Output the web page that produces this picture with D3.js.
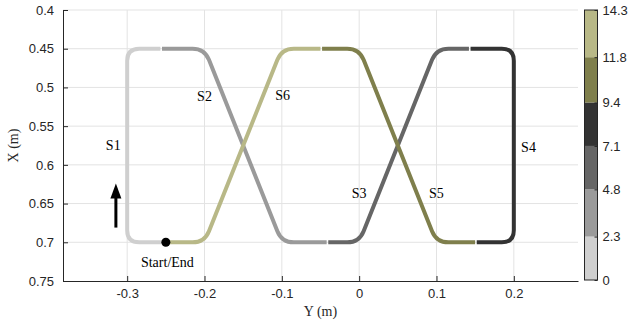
<!DOCTYPE html>
<html>
<head>
<meta charset="utf-8">
<script src="https://cdn.jsdelivr.net/npm/d3@7"></script>
<style>
  body { margin: 0; background: #fff; }
  svg { display: block; }
</style>
</head>
<body>
<svg id="chart" width="629" height="326"></svg>
<script>
// ---------- data ----------
const xTicks = [-0.3, -0.2, -0.1, 0, 0.1, 0.2];
const xTickLabels = ["-0.3", "-0.2", "-0.1", "0", "0.1", "0.2"];
const yTicks = [0.4, 0.45, 0.5, 0.55, 0.6, 0.65, 0.7, 0.75];
const yTickLabels = ["0.4", "0.45", "0.5", "0.55", "0.6", "0.65", "0.7", "0.75"];

const segmentNames = ["S1", "S2", "S3", "S4", "S5", "S6"];
// way-points (Y, X) of each segment of the trajectory
const segS1 = [[-0.25, 0.70], [-0.30, 0.70], [-0.30, 0.45], [-0.256, 0.45]];
const segS2 = [[-0.256, 0.45], [-0.20, 0.45], [-0.10, 0.70], [-0.041, 0.70]];
const segS3 = [[-0.041, 0.70], [0.00, 0.70], [0.10, 0.45], [0.143, 0.45]];
const segS4 = [[0.143, 0.45], [0.20, 0.45], [0.20, 0.70], [0.151, 0.70]];
const segS5 = [[0.151, 0.70], [0.10, 0.70], [0.00, 0.45], [-0.049, 0.45]];
const segS6 = [[-0.049, 0.45], [-0.10, 0.45], [-0.20, 0.70], [-0.25, 0.70]];
const segments = [segS1, segS2, segS3, segS4, segS5, segS6];
const segmentColors = ["#cfcfcf", "#9a9a9a", "#666666", "#333333", "#7f7f4c", "#b8b887"];

// label positions (Y, X)
const labelPos = [[-0.318, 0.574], [-0.2, 0.511], [0.0, 0.636], [0.219, 0.577], [0.1, 0.637], [-0.099, 0.510]];

const startEnd = [-0.25, 0.70];
const startLabelPos = [-0.248, 0.726];
const arrowData = [-0.3146, 0.681, 0.624]; // Y, X from, X to

// colour bar (time)
const cbBounds = [0, 2.3, 4.8, 7.1, 9.4, 11.8, 14.3];
const cbTickLabels = ["0", "2.3", "4.8", "7.1", "9.4", "11.8", "14.3"];

// ---------- drawing ----------
const svg = d3.select("#chart");
const axisColor = "#262626";
const pL = 63, pR = 578, pT = 10, pB = 281;

const x = d3.scaleLinear().domain([-0.383, 0.283]).range([pL, pR]);
const y = d3.scaleLinear().domain([0.4, 0.75]).range([pT, pB]);

// grid
const grid = svg.append("g");
grid.selectAll("line.v").data(xTicks).join("line")
  .attr("x1", d => x(d)).attr("x2", d => x(d))
  .attr("y1", pT).attr("y2", pB)
  .attr("stroke", "#e3e3e3").attr("stroke-width", 1);
grid.selectAll("line.h").data(yTicks.filter(d => d < 0.75)).join("line")
  .attr("x1", pL).attr("x2", pR)
  .attr("y1", d => y(d)).attr("y2", d => y(d))
  .attr("stroke", "#e3e3e3").attr("stroke-width", 1);

// axes
const xAxis = d3.axisBottom(x).tickValues(xTicks)
  .tickFormat((d, i) => xTickLabels[i]).tickSizeInner(-5).tickSizeOuter(0).tickPadding(8);
const yAxis = d3.axisLeft(y).tickValues(yTicks)
  .tickFormat((d, i) => yTickLabels[i]).tickSizeInner(-5).tickSizeOuter(0).tickPadding(9);

const gx = svg.append("g").attr("transform", `translate(0,${pB})`).call(xAxis);
const gy = svg.append("g").attr("transform", `translate(${pL},0)`).call(yAxis);
[gx, gy].forEach(g => {
  g.select(".domain").attr("stroke", axisColor);
  g.selectAll(".tick line").attr("stroke", axisColor);
  g.selectAll(".tick text").attr("fill", axisColor)
    .style("font-family", "'Liberation Sans', Arial, sans-serif").style("font-size", "13px");
});

// axis titles
svg.append("text").attr("x", (pL + pR) / 2).attr("y", 316)
  .attr("text-anchor", "middle").attr("fill", axisColor)
  .style("font-family", "'Liberation Serif', 'Times New Roman', serif").style("font-size", "14px")
  .text("Y (m)");
svg.append("text").attr("transform", `translate(18,${(pT + pB) / 2}) rotate(-90)`)
  .attr("text-anchor", "middle").attr("fill", axisColor)
  .style("font-family", "'Liberation Serif', 'Times New Roman', serif").style("font-size", "14px")
  .text("X (m)");

// rounded path builder (pixel space)
function roundedPath(pts, r, trim) {
  const p = pts.map(d => [x(d[0]), y(d[1])]);
  const unit = (a, b) => { const dx = b[0] - a[0], dy = b[1] - a[1]; const L = Math.hypot(dx, dy); return [dx / L, dy / L]; };
  const u0 = unit(p[0], p[1]);
  p[0] = [p[0][0] + u0[0] * trim, p[0][1] + u0[1] * trim];
  const n = p.length;
  const u1 = unit(p[n - 2], p[n - 1]);
  p[n - 1] = [p[n - 1][0] - u1[0] * trim, p[n - 1][1] - u1[1] * trim];
  const path = d3.path();
  path.moveTo(p[0][0], p[0][1]);
  for (let i = 1; i < n - 1; i++) {
    const a = unit(p[i - 1], p[i]), b = unit(p[i], p[i + 1]);
    path.lineTo(p[i][0] - a[0] * r, p[i][1] - a[1] * r);
    path.quadraticCurveTo(p[i][0], p[i][1], p[i][0] + b[0] * r, p[i][1] + b[1] * r);
  }
  path.lineTo(p[n - 1][0], p[n - 1][1]);
  return path.toString();
}

svg.append("g").selectAll("path").data(segments).join("path")
  .attr("d", d => roundedPath(d, 12, 0.8))
  .attr("fill", "none")
  .attr("stroke", (d, i) => segmentColors[i])
  .attr("stroke-width", 4)
  .attr("stroke-linecap", "butt")
  .attr("stroke-linejoin", "round");

// segment labels
svg.append("g").selectAll("text").data(segmentNames).join("text")
  .attr("x", (d, i) => x(labelPos[i][0]))
  .attr("y", (d, i) => y(labelPos[i][1]))
  .attr("dy", "0.35em")
  .attr("text-anchor", "middle")
  .attr("fill", "#000")
  .style("font-family", "'Liberation Serif', 'Times New Roman', serif").style("font-size", "14px")
  .text(d => d);

// start / end marker
svg.append("circle").attr("cx", x(startEnd[0])).attr("cy", y(startEnd[1])).attr("r", 4.5).attr("fill", "#000");
svg.append("text").attr("x", x(startLabelPos[0])).attr("y", y(startLabelPos[1]))
  .attr("dy", "0.35em").attr("text-anchor", "middle").attr("fill", "#000")
  .style("font-family", "'Liberation Serif', 'Times New Roman', serif").style("font-size", "14px")
  .text("Start/End");

// arrow
const ax = x(arrowData[0]), ay0 = y(arrowData[1]), ay1 = y(arrowData[2]);
svg.append("line").attr("x1", ax).attr("x2", ax).attr("y1", ay0).attr("y2", ay1 + 10)
  .attr("stroke", "#000").attr("stroke-width", 3);
svg.append("path")
  .attr("d", `M${ax},${ay1} L${ax - 5.5},${ay1 + 15} L${ax + 5.5},${ay1 + 15} Z`)
  .attr("fill", "#000");

// colour bar
const cbX = 584.5, cbW = 13;
const c = d3.scaleLinear().domain([0, 14.3]).range([280, 10]);
const cb = svg.append("g");
cb.selectAll("rect").data(d3.range(cbBounds.length - 1)).join("rect")
  .attr("x", cbX).attr("width", cbW)
  .attr("y", i => c(cbBounds[i + 1])).attr("height", i => c(cbBounds[i]) - c(cbBounds[i + 1]))
  .attr("fill", i => segmentColors[i]);
const cbAxis = d3.axisRight(c).tickValues(cbBounds)
  .tickFormat((d, i) => cbTickLabels[i]).tickSizeInner(-3).tickSizeOuter(0).tickPadding(5);
const gcb = svg.append("g").attr("transform", `translate(${cbX + cbW},0)`).call(cbAxis);
gcb.select(".domain").remove();
gcb.selectAll(".tick line").attr("stroke", axisColor);
gcb.selectAll(".tick text").attr("fill", axisColor)
  .style("font-family", "'Liberation Sans', Arial, sans-serif").style("font-size", "13px");
cb.append("rect").attr("x", cbX).attr("y", c(14.3)).attr("width", cbW).attr("height", c(0) - c(14.3))
  .attr("fill", "none").attr("stroke", axisColor).attr("stroke-width", 1);
</script>
</body>
</html>
